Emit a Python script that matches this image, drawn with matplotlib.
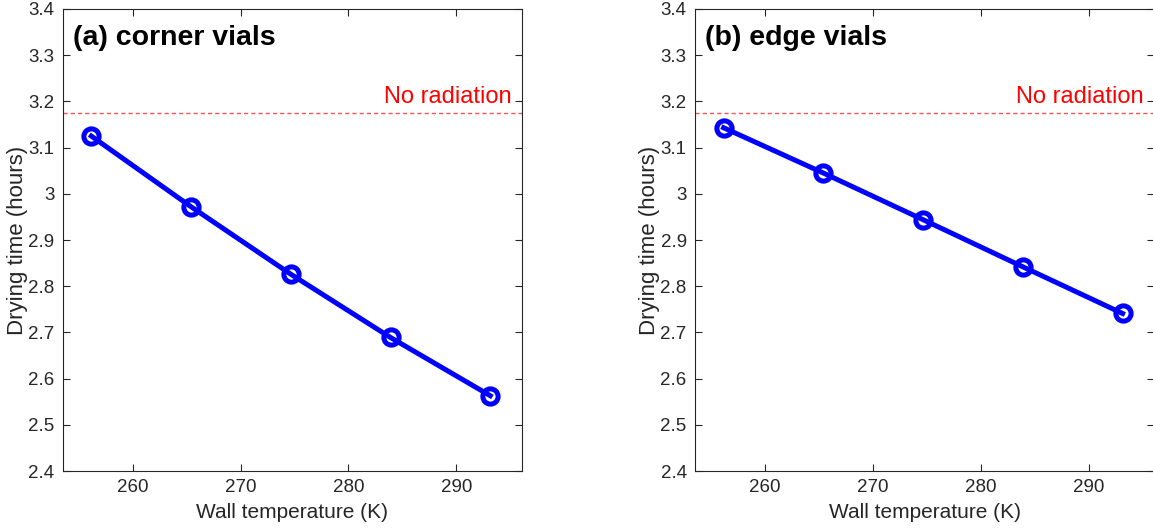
import matplotlib
matplotlib.use('Agg')
import matplotlib.pyplot as plt
import numpy as np

# wall temperature (K)
wall_temp = [256.15, 265.4, 274.65, 283.9, 293.15]
# drying time (hours)
corner_time = [3.125, 2.972, 2.826, 2.689, 2.563]
edge_time = [3.143, 3.045, 2.944, 2.842, 2.741]
no_radiation = 3.174

panel_titles = ['(a) corner vials', '(b) edge vials']
y_ticks = [2.4, 2.5, 2.6, 2.7, 2.8, 2.9, 3.0, 3.1, 3.2, 3.3, 3.4]
y_ticklabels = ['2.4', '2.5', '2.6', '2.7', '2.8', '2.9', '3', '3.1', '3.2', '3.3', '3.4']
x_ticks = [260, 270, 280, 290]

plt.rcParams['font.family'] = ['Liberation Sans', 'DejaVu Sans']
dark = '#262626'

fig = plt.figure(figsize=(11.53, 5.29), dpi=100)
ax1 = fig.add_axes([0.0544, 0.1096, 0.3984, 0.8734])
ax2 = fig.add_axes([0.6028, 0.1096, 0.3984, 0.8734])

for ax, times, title in zip([ax1, ax2], [corner_time, edge_time], panel_titles):
    # reference line: drying time without radiation
    ax.axhline(no_radiation, color='#f25555', lw=1.0, ls=(0, (3, 2.2)))
    ax.plot(wall_temp, times, color='#0000ff', lw=3.6, marker='o', ms=11,
            mfc='none', mec='#0000ff', mew=3.6, zorder=3)
    ax.text(0.977, no_radiation + 0.022, 'No radiation', color='red', fontsize=17,
            ha='right', va='baseline', transform=ax.get_yaxis_transform())
    ax.text(0.022, 0.965, title, fontsize=20.5, fontweight='bold', color='black',
            ha='left', va='top', transform=ax.transAxes)
    ax.set_xlim(253.5, 296.1)
    ax.set_ylim(2.4, 3.4)
    ax.set_xticks(x_ticks)
    ax.set_yticks(y_ticks)
    ax.set_yticklabels(y_ticklabels)
    ax.tick_params(direction='in', length=5, width=0.8, color=dark, labelcolor=dark,
                   labelsize=13.5, top=True, right=True, pad=6)
    for sp in ax.spines.values():
        sp.set_color(dark)
        sp.set_linewidth(0.8)
    ax.set_xlabel('Wall temperature (K)', fontsize=15, color=dark, va='center')
    ax.set_ylabel('Drying time (hours)', fontsize=16, color=dark, va='center')
    ax.xaxis.set_label_coords(0.5, -0.089)
    ax.yaxis.set_label_coords(-0.0995, 0.5)

fig.savefig('out.png', dpi=100)
